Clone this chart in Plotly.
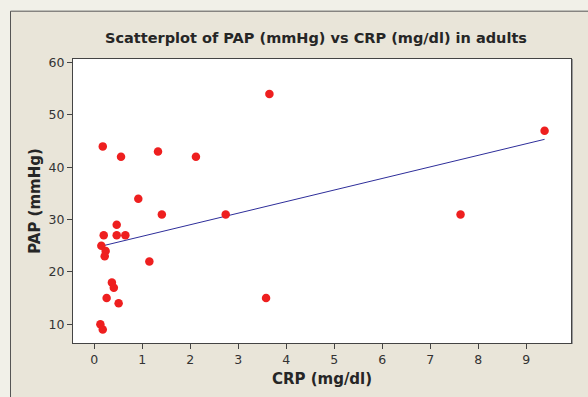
import numpy as np
import plotly.graph_objects as go

# Data (CRP mg/dl, PAP mmHg)
crp = [0.18, 0.56, 1.33, 2.12, 3.65, 9.38, 0.92, 1.41, 2.74, 0.47, 0.20, 0.47,
       0.65, 0.15, 0.24, 0.22, 1.15, 0.37, 0.41, 0.26, 0.51, 0.13, 0.18, 3.58, 7.63]
pap = [44, 42, 43, 42, 54, 47, 34, 31, 31, 29, 27, 27,
       27, 25, 24, 23, 22, 18, 17, 15, 14, 10, 9, 15, 31]
x_ticks = [0, 1, 2, 3, 4, 5, 6, 7, 8, 9]
y_ticks = [10, 20, 30, 40, 50, 60]

title_text = "Scatterplot of PAP (mmHg) vs CRP (mg/dl) in adults"
x_title = "CRP (mg/dl)"
y_title = "PAP (mmHg)"

# least-squares fit line
slope, intercept = np.polyfit(crp, pap, 1)
fit_x = [min(crp), max(crp)]
fit_y = [intercept + slope * v for v in fit_x]

fig = go.Figure()
fig.add_trace(go.Scatter(x=fit_x, y=fit_y, mode="lines",
                         line=dict(color="#2e2e9a", width=1), hoverinfo="skip"))
fig.add_trace(go.Scatter(x=crp, y=pap, mode="markers",
                         marker=dict(color="#ee1f1f", size=8.5, line=dict(width=0))))

L, R, T, B = 73, 17, 59, 50
W, H = 588, 397
pw, ph = W - L - R, H - T - B

def px_x(p):
    return (p - L) / pw

def px_y(p):
    return (H - B - p) / ph

# inner beige frame
fig.add_shape(type="rect", xref="paper", yref="paper",
              x0=px_x(10.5), x1=px_x(620), y0=px_y(10.5), y1=px_y(420),
              fillcolor="#e9e5d9", line=dict(color="#555555", width=1), layer="below")
# right-edge shadow of plot area
fig.add_shape(type="line", xref="paper", yref="paper",
              x0=px_x(572), x1=px_x(572), y0=px_y(59), y1=px_y(348),
              line=dict(color="#9a9a9a", width=2), layer="below")
# white plot area
fig.add_shape(type="rect", xref="paper", yref="paper", x0=0, x1=1, y0=0, y1=1,
              fillcolor="white", line=dict(width=0), layer="below")

font_family = "DejaVu Sans, Verdana, sans-serif"
fig.update_layout(
    width=W, height=H,
    margin=dict(l=L, r=R, t=T, b=B),
    paper_bgcolor="#f1f0e8",
    plot_bgcolor="white",
    showlegend=False,
    title=dict(text="<b>" + title_text + "</b>", x=316 / W,
               xanchor="center", y=1 - 38 / H, yanchor="middle",
               font=dict(family=font_family, size=14.5, color="#262626")),
    font=dict(family=font_family, color="#333333"),
)
fig.update_xaxes(range=[-0.44, 9.93], tickvals=x_ticks, ticks="outside", ticklen=5,
                 tickcolor="#444444", showgrid=False, zeroline=False,
                 showline=True, linecolor="#444444", linewidth=1, mirror=True,
                 tickfont=dict(size=12.5, color="#333333"),
                 title=dict(text="<b>" + x_title + "</b>", standoff=7,
                            font=dict(size=15, color="#262626")))
fig.update_yaxes(range=[6.42, 60.7], tickvals=y_ticks, ticks="outside", ticklen=5,
                 tickcolor="#444444", showgrid=False, zeroline=False,
                 showline=True, linecolor="#444444", linewidth=1, mirror=True,
                 tickfont=dict(size=12.5, color="#333333"),
                 title=dict(text="<b>" + y_title + "</b>", standoff=4,
                            font=dict(size=15, color="#262626")))

fig.write_html("out.html")
